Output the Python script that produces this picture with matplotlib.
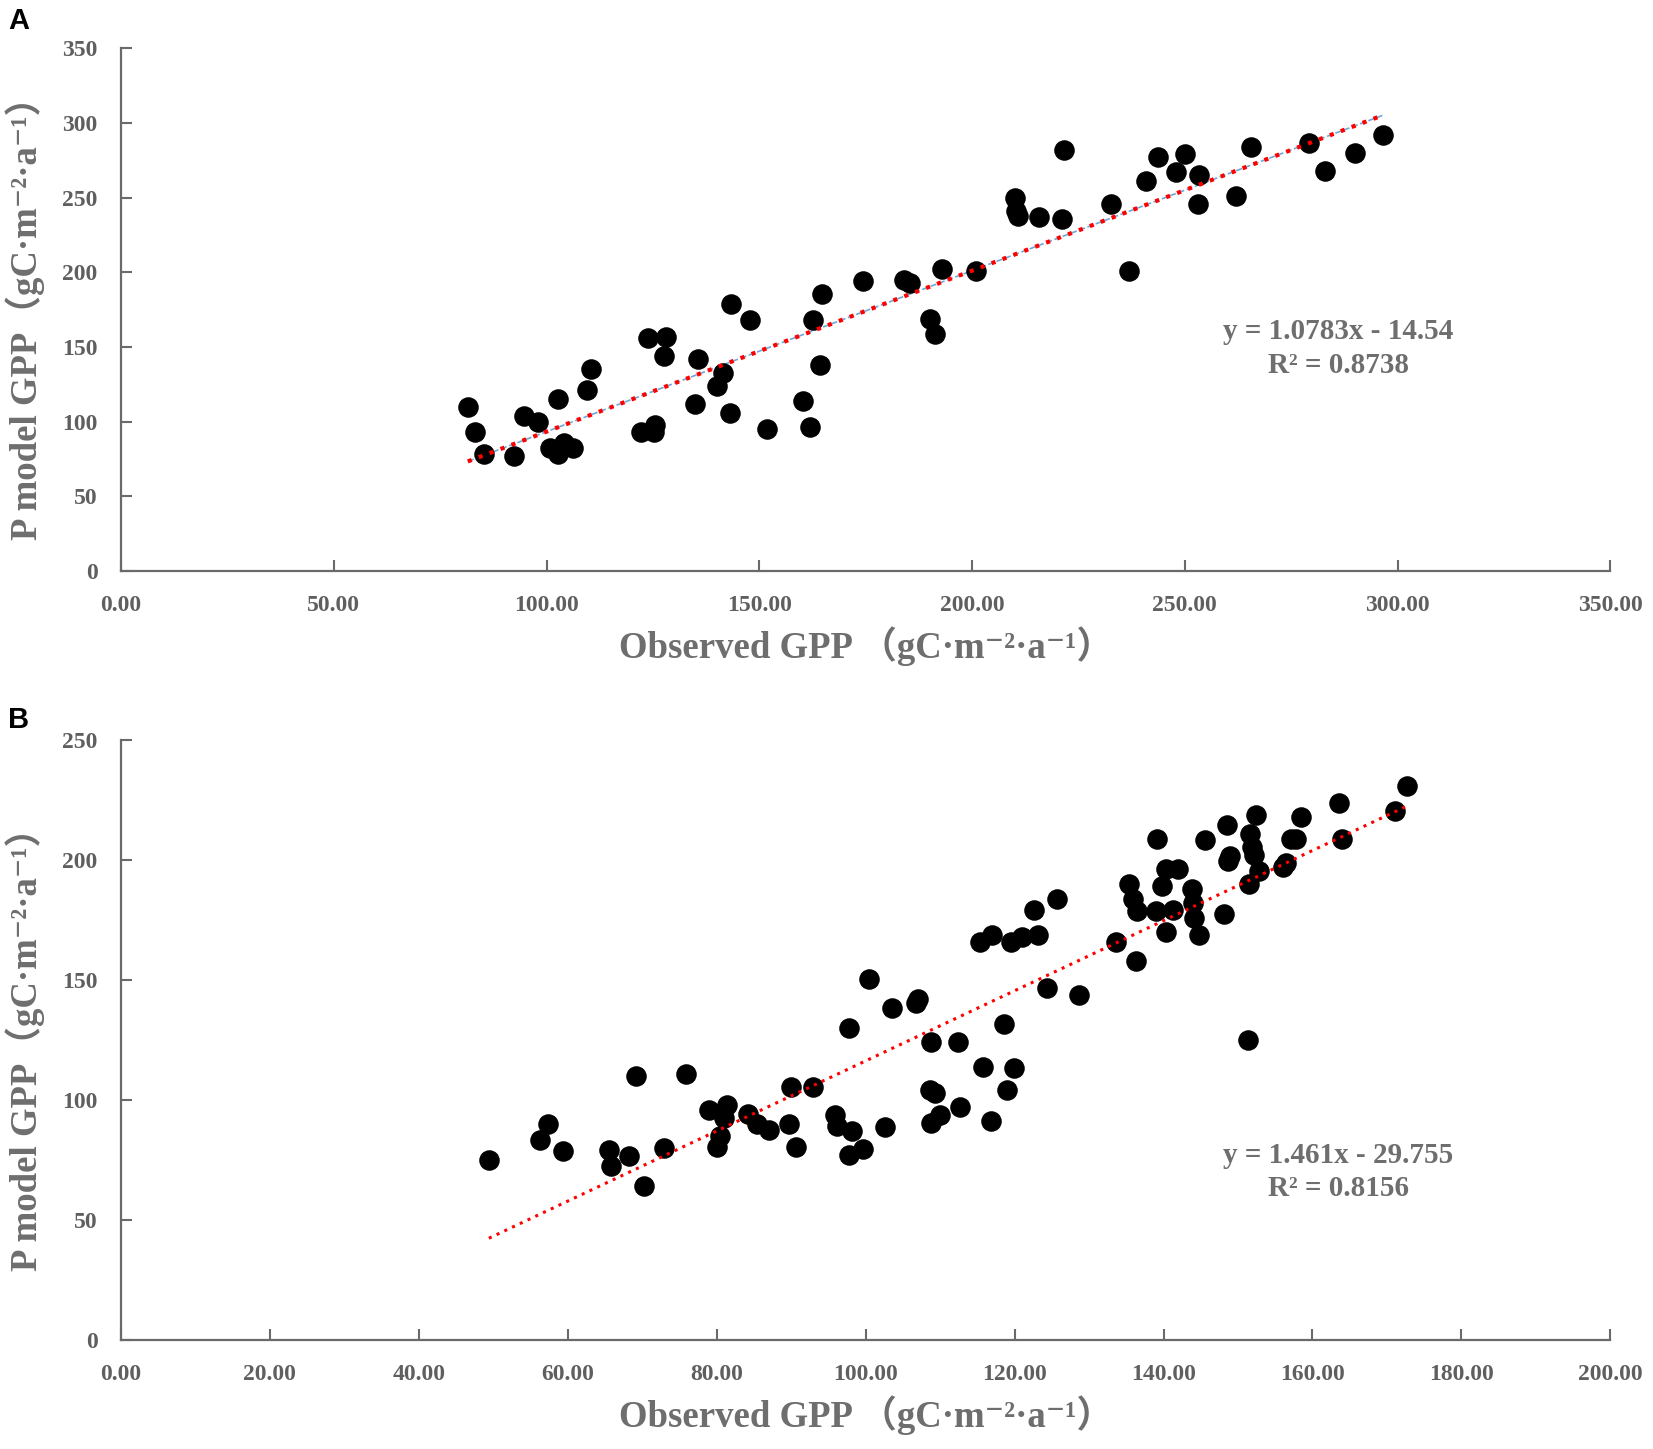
import matplotlib.pyplot as plt
import numpy as np

# panel A: observed vs P model GPP
obs_a = [81.5, 83.2, 85.2, 92.4, 94.6, 98.1, 102.8, 100.8, 102.8, 104.0, 106.3, 109.5, 110.5,
         122.1, 123.9, 125.3, 125.6, 127.6, 128.1, 134.8, 135.5, 140.0, 141.4, 143.4, 143.2,
         147.9, 151.8, 160.3, 161.8, 162.7, 164.2, 164.7, 174.4, 184.0, 185.5, 190.0, 191.2,
         193.0, 200.9, 210.0, 210.3, 210.8, 215.8, 221.2, 221.5, 232.6, 236.8, 240.8, 243.7,
         248.0, 250.0, 253.2, 253.4, 262.0, 265.5, 279.2, 282.9, 290.0, 296.5]
mod_a = [110, 93, 78, 77, 104, 100, 115, 82.6, 78, 86, 82, 121, 135.5,
         93, 156, 93, 97.4, 144, 156.7, 111.5, 142, 124, 132.7, 179, 106,
         168, 95, 113.6, 96.7, 168, 138, 185.6, 194, 195, 193, 169, 159,
         202, 201, 250, 241, 238, 237, 236, 282, 245.6, 201, 261, 277,
         267.5, 279, 246, 265, 251, 283.7, 286.5, 268, 280, 292]
slope_a, icept_a = 1.0783, -14.54
eq_a = "y = 1.0783x - 14.54\nR² = 0.8738"

# panel B
obs_b = [49.4, 56.3, 57.3, 59.3, 65.5, 65.8, 68.2, 69.1, 70.2, 72.9, 75.9, 79.0, 80.0, 80.5,
         81.0, 81.4, 84.2, 85.4, 87.0, 89.7, 90.0, 90.6, 92.9, 95.9, 96.2, 97.7, 97.8, 98.1,
         99.6, 100.5, 102.6, 103.5, 106.7, 107.0, 108.8, 108.6, 109.3, 108.8, 110.0, 112.4,
         112.7, 115.8, 115.4, 116.9, 116.8, 118.6, 119.0, 119.5, 119.9, 121.0, 122.6, 123.1,
         124.4, 125.7, 128.7, 133.6, 135.3, 135.9, 136.4, 136.3, 139.0, 139.1, 139.8, 140.3,
         140.3, 142.0, 141.3, 143.8, 144.0, 144.1, 144.7, 145.5, 148.1, 148.5, 148.6, 148.9,
         151.5, 151.6, 151.9, 152.1, 152.4, 152.8, 151.3, 156.0, 156.4, 157.1, 157.8, 158.5,
         163.5, 163.9, 171.1, 172.7]
mod_b = [75.1, 83.5, 90, 78.6, 79, 72.5, 76.5, 110, 64, 80, 110.7, 96, 80.4, 85,
         92.7, 98, 94, 90, 87.4, 90, 105.4, 80.4, 105.4, 93.6, 89.2, 130, 77, 87,
         79.5, 150.3, 88.8, 138.4, 140.6, 142, 124.3, 104, 102.8, 90.5, 93.6, 124.3,
         97, 113.8, 166, 169, 91.4, 131.8, 104, 166, 113.4, 168, 179.3, 168.7,
         146.7, 184, 144, 166, 190, 184, 178.8, 158, 178.8, 208.7, 189.4, 170,
         196.4, 196.4, 179.3, 188, 182.3, 176, 168.7, 208.3, 177.5, 214.8, 199.5, 201.7,
         190, 211, 205.6, 202, 218.8, 195.5, 125.2, 197.3, 199, 209, 209, 218,
         223.6, 208.7, 220.5, 231]
slope_b, icept_b = 1.461, -29.755
eq_b = "y = 1.461x - 29.755\nR² = 0.8156"

serif = ['Liberation Serif', 'DejaVu Serif', 'Noto Sans CJK SC']
txt_gray = '#6e6e6e'
tick_gray = '#5f5f5f'
unit = '（gC·m⁻²·a⁻¹）'

fig = plt.figure(figsize=(16.53, 14.49), dpi=100)
ax_a = fig.add_axes([0.0732, 0.606, 0.901, 0.3606])
ax_b = fig.add_axes([0.0732, 0.0752, 0.901, 0.414])


def setup(ax, xmax, xstep, ymax, ystep):
    ax.set_xlim(0, xmax)
    ax.set_ylim(0, ymax)
    ax.set_xticks(np.arange(0, xmax + 1, xstep))
    ax.set_yticks(np.arange(0, ymax + 1, ystep))
    ax.set_xticklabels(['%.2f' % v for v in np.arange(0, xmax + 1, xstep)])
    for s in ['top', 'right']:
        ax.spines[s].set_visible(False)
    for s in ['left', 'bottom']:
        ax.spines[s].set_color('#6a6a6a')
        ax.spines[s].set_linewidth(1.6)
    ax.tick_params(direction='in', length=8, width=1.5, color='#6a6a6a',
                   labelsize=17, labelcolor=tick_gray, pad=17)
    for lab in ax.get_xticklabels() + ax.get_yticklabels():
        lab.set_family(serif)
        lab.set_fontweight('bold')
    ax.set_xlabel('Observed GPP ' + unit, family=serif, fontweight='bold',
                  fontsize=26.5, color=txt_gray, labelpad=8)
    ax.set_ylabel('P model GPP' + unit, family=serif, fontweight='bold',
                  fontsize=26.5, color=txt_gray, labelpad=12)


setup(ax_a, 350, 50, 350, 50)
setup(ax_b, 200, 20, 250, 50)

xa = np.array([min(obs_a), max(obs_a)])
ax_a.plot(xa, slope_a * xa + icept_a, color='#6fa8dc', lw=1.2, ls='--', zorder=2)
ax_a.scatter(obs_a, mod_a, s=190, color='black', zorder=3)
ax_a.plot(xa, slope_a * xa + icept_a, color='red', lw=3, ls=(0, (1, 1.8)), zorder=4)
ax_a.text(286, 149, eq_a, ha='center', va='center', fontsize=21, color=txt_gray,
          family=serif, fontweight='bold', linespacing=1.3)

xb = np.array([min(obs_b), max(obs_b)])
ax_b.scatter(obs_b, mod_b, s=190, color='black', zorder=3)
ax_b.plot(xb, slope_b * xb + icept_b, color='red', lw=2.2, ls=(0, (1, 1.8)), zorder=4)
ax_b.text(163.5, 70, eq_b, ha='center', va='center', fontsize=21, color=txt_gray,
          family=serif, fontweight='bold', linespacing=1.3)

fig.text(0.005, 0.995, 'A', fontsize=21, fontweight='bold', family='Liberation Sans', va='top')
fig.text(0.005, 0.513, 'B', fontsize=21, fontweight='bold', family='Liberation Sans', va='top')

fig.savefig('out.png', dpi=100)
